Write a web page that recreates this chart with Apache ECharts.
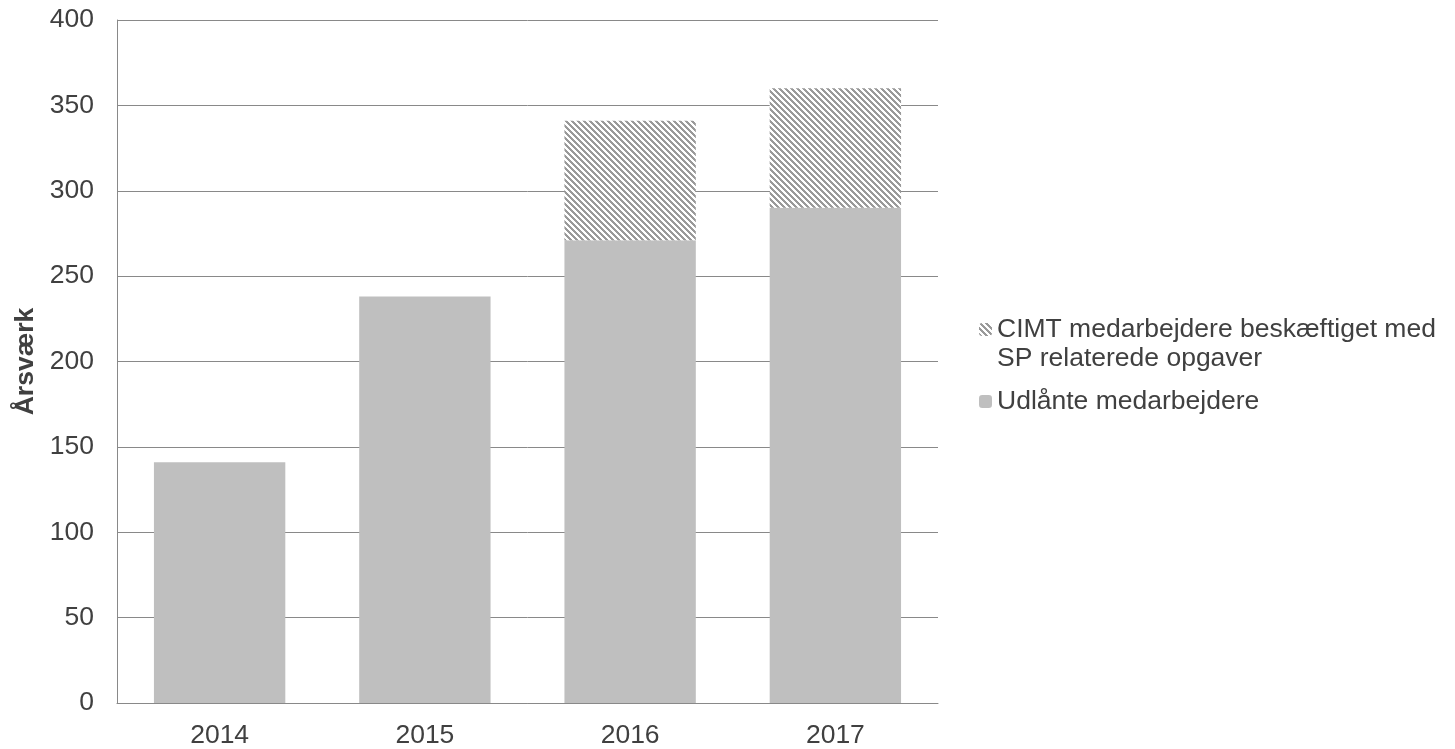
<!DOCTYPE html>
<html>
<head>
<meta charset="utf-8">
<script src="https://cdn.jsdelivr.net/npm/echarts@6/dist/echarts.min.js"></script>
<style>
html,body{margin:0;padding:0;background:#fff;}
#chart{width:1455px;height:749px;}
</style>
</head>
<body>
<div id="chart"></div>
<script>
var categories = ['2014', '2015', '2016', '2017'];
var udlaante = [141, 238, 271, 290];
var cimt = [0, 0, 70, 70];
var seriesNames = ['CIMT medarbejdere beskæftiget med', 'Udlånte medarbejdere'];
var legendLines = {
  'CIMT medarbejdere beskæftiget med': ['CIMT medarbejdere beskæftiget med', 'SP relaterede opgaver'],
  'Udlånte medarbejdere': ['Udlånte medarbejdere']
};
var yTicks = { min: 0, max: 400, interval: 50 };

function makeHatch() {
  var s = 6;
  var c = document.createElement('canvas');
  c.width = s; c.height = s;
  var ctx = c.getContext('2d');
  ctx.fillStyle = '#ffffff';
  ctx.fillRect(0, 0, s, s);
  ctx.fillStyle = '#9a9a9a';
  for (var y = 0; y < s; y++) {
    for (var x = 0; x < s; x++) {
      if ((((x - y) % s) + s) % s < 3) ctx.fillRect(x, y, 1, 1);
    }
  }
  return c;
}
var hatch = { image: makeHatch(), repeat: 'repeat' };

var fontFamily = '"Liberation Sans", Arial, sans-serif';
var textColor = '#404040';
var lineColor = '#898989';

var chart = echarts.init(document.getElementById('chart'), null, { renderer: 'canvas' });
chart.setOption({
  animation: false,
  backgroundColor: '#ffffff',
  grid: { left: 117, right: 517, top: 20, bottom: 44, containLabel: false },
  legend: {
    orient: 'vertical',
    left: 979,
    top: 286,
    padding: 0,
    itemWidth: 13,
    itemHeight: 13,
    itemGap: 14,
    data: [seriesNames[0], seriesNames[1]],
    textStyle: {
      color: textColor,
      fontFamily: fontFamily,
      fontSize: 26.5,
      lineHeight: 29
    },
    formatter: function (n) {
      var lines = legendLines[n];
      if (lines.length > 1) {
        var pre = [];
        for (var i = 1; i < lines.length; i++) pre.push(' ');
        return pre.concat(lines).join('\n');
      }
      return lines[0];
    }
  },
  xAxis: {
    type: 'category',
    data: categories,
    axisLine: { show: true, lineStyle: { color: lineColor, width: 1 } },
    axisTick: { show: false },
    axisLabel: { color: textColor, fontFamily: fontFamily, fontSize: 26.5, margin: 19 }
  },
  yAxis: {
    type: 'value',
    min: yTicks.min,
    max: yTicks.max,
    interval: yTicks.interval,
    name: 'Årsværk',
    nameLocation: 'middle',
    nameGap: 78,
    nameTextStyle: { color: textColor, fontFamily: fontFamily, fontSize: 26.5, fontWeight: 'bold' },
    axisLine: { show: true, lineStyle: { color: lineColor, width: 1 } },
    axisTick: { show: false },
    splitLine: { show: true, lineStyle: { color: lineColor, width: 1 } },
    axisLabel: { color: textColor, fontFamily: fontFamily, fontSize: 26.5, margin: 23 }
  },
  series: [
    {
      name: seriesNames[1],
      type: 'bar',
      stack: 'total',
      barWidth: '64%',
      data: udlaante,
      itemStyle: { color: '#bfbfbf' }
    },
    {
      name: seriesNames[0],
      type: 'bar',
      stack: 'total',
      barWidth: '64%',
      data: cimt,
      itemStyle: { color: hatch }
    }
  ]
});
</script>
</body>
</html>
